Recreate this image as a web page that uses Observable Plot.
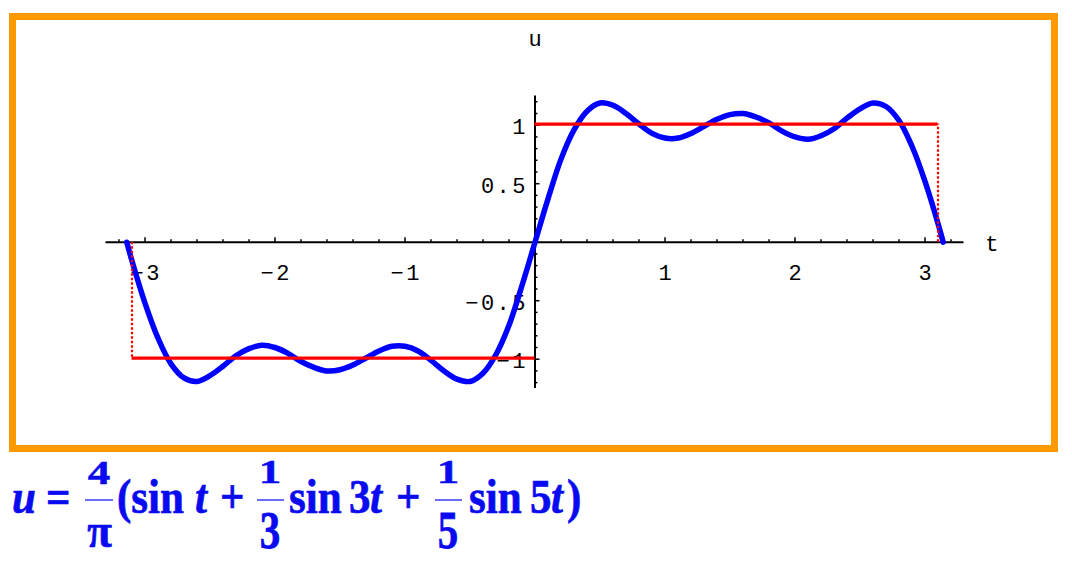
<!DOCTYPE html>
<html>
<head>
<meta charset="utf-8">
<script src="https://cdn.jsdelivr.net/npm/d3@7"></script>
<script src="https://cdn.jsdelivr.net/npm/@observablehq/plot@0.6"></script>
<style>
  body { margin: 0; background: white; }
  #wrap { position: relative; width: 1072px; height: 568px; overflow: hidden; background: white; }
  #chart { position: absolute; left: 0; top: 0; }
  #box { position: absolute; left: 9px; top: 13px; width: 1049px; height: 439px;
         border: 7.5px solid #FF9900; box-sizing: border-box; pointer-events: none; }
  #formula { position: absolute; left: 0; top: 452px; }
</style>
</head>
<body>
<div id="wrap">
  <div id="chart"></div>
  <div id="box"></div>
  <svg id="formula" width="1072" height="116"></svg>
</div>
<script>
// ---- data ----
const tValues = [
  -3.14, -3.1, -3.0, -2.9, -2.8, -2.7, -2.6, -2.5, -2.4, -2.3, -2.2, -2.1, -2.0,
  -1.9, -1.8, -1.7, -1.6, -1.5, -1.4, -1.3, -1.2, -1.1, -1.0, -0.9, -0.8, -0.7,
  -0.6, -0.5, -0.4, -0.3, -0.2, -0.1,
  0,
  0.1, 0.2, 0.3, 0.4, 0.5, 0.6, 0.7, 0.8, 0.9, 1.0, 1.1, 1.2, 1.3, 1.4, 1.5,
  1.6, 1.7, 1.8, 1.9, 2.0, 2.1, 2.2, 2.3, 2.4, 2.5, 2.6, 2.7, 2.8, 2.9, 3.0,
  3.1, 3.14
];
const uValues = [
  0, -0.16, -0.52, -0.82, -1.04, -1.16, -1.19, -1.14, -1.06, -0.97, -0.91, -0.88, -0.90,
  -0.95, -1.02, -1.07, -1.10, -1.09, -1.05, -0.99, -0.93, -0.89, -0.89, -0.93, -1.01, -1.10,
  -1.17, -1.19, -1.12, -0.96, -0.71, -0.37,
  0,
  0.37, 0.71, 0.96, 1.12, 1.19, 1.17, 1.10, 1.01, 0.93, 0.89, 0.89, 0.93, 0.99, 1.05, 1.09,
  1.10, 1.07, 1.02, 0.95, 0.90, 0.88, 0.91, 0.97, 1.06, 1.14, 1.19, 1.16, 1.04, 0.82, 0.52,
  0.16, 0
];
// square wave reference (red)
const levelStart = [-3.1, 0];
const levelEnd = [0, 3.1];
const levelValue = [-0.99, 1.01];
const jumpT = [-3.1, 3.1];
const jumpU = [-0.99, 1.01];
// tick labels
const xTickValues = [-3, -2, -1, 1, 2, 3];
const xTickLabels = ["\u22123", "\u22122", "\u22121", "1", "2", "3"];
const yTickValues = [1, 0.5, -0.5, -1];
const yTickLabels = ["1", "0.5", "\u22120.5", "\u22121"];
const xAxisTitle = "t";
const yAxisTitle = "u";

const curve = tValues.map((t, i) => ({t, u: uValues[i]}));
const levels = levelValue.map((u, i) => ({t1: levelStart[i], t2: levelEnd[i], u}));
const jumps = jumpT.map((t, i) => ({t, u: jumpU[i]}));
const xMinor = d3.range(-32, 33, 2).map(d => d / 10).filter(d => d !== 0 && !Number.isInteger(d));
const yMinor = d3.range(-12, 13, 1).map(d => d / 10).filter(d => d !== 0 && Math.abs(d) !== 0.5 && Math.abs(d) !== 1);
const xMajor = [-3, -2, -1, 1, 2, 3];
const yMajor = [-1, -0.5, 0.5, 1];

const PXX = 130, PXY = 117;
const mono = "Liberation Mono, DejaVu Sans Mono, monospace";

const plot = Plot.plot({
  width: 1072, height: 452,
  marginLeft: 105.5, marginRight: 108.5, marginTop: 95.45, marginBottom: 64.05,
  x: {domain: [-3.3, 3.3], axis: null},
  y: {domain: [-1.25, 1.25], axis: null},
  style: {background: "transparent", overflow: "visible", letterSpacing: "2.5px"},
  marks: [
    // axes
    Plot.ruleY([0], {x1: -3.3, x2: 3.3, stroke: "black", strokeWidth: 2}),
    Plot.ruleX([0], {y1: -1.25, y2: 1.25, stroke: "black", strokeWidth: 2}),
    Plot.ruleX(xMinor, {x: d => d, y1: 0, y2: 2.5 / PXY, stroke: "black", strokeWidth: 1.5}),
    Plot.ruleX(xMajor, {x: d => d, y1: -0.5 / PXY, y2: 4.5 / PXY, stroke: "black", strokeWidth: 1.5}),
    Plot.ruleY(yMinor, {y: d => d, x1: 0, x2: 3 / PXX, stroke: "black", strokeWidth: 1.5}),
    Plot.ruleY(yMajor, {y: d => d, x1: 0, x2: 5 / PXX, stroke: "black", strokeWidth: 1.5}),
    Plot.text(xTickValues, {x: d => d, y: 0, text: (d, i) => xTickLabels[i], dy: 31, dx: 1.25,
      fontFamily: mono, fontSize: 22, fill: "black", lineAnchor: "middle"}),
    Plot.text(yTickValues, {x: 0, y: d => d, text: (d, i) => yTickLabels[i], textAnchor: "end", dx: -7, dy: 2,
      fontFamily: mono, fontSize: 22, fill: "black", lineAnchor: "middle"}),
    Plot.text([yAxisTitle], {x: 0, y: 1.25, text: d => d, dy: -57, dx: 1.25,
      fontFamily: mono, fontSize: 22, fill: "black", lineAnchor: "middle"}),
    Plot.text([xAxisTitle], {x: 3.3, y: 0, text: d => d, dx: 29, dy: 2,
      fontFamily: mono, fontSize: 22, fill: "black", lineAnchor: "middle"}),
    // partial sum curve
    Plot.line(curve, {x: "t", y: "u", stroke: "#0000ff", strokeWidth: 5.5, curve: "catmull-rom"}),
    // square wave
    Plot.ruleX(jumps, {x: "t", y1: 0, y2: "u", stroke: "#ff0000", strokeWidth: 2.2, strokeDasharray: "2.5,2"}),
    Plot.ruleY(levels, {y: "u", x1: "t1", x2: "t2", stroke: "#ff0000", strokeWidth: 3.2})
  ]
});
document.getElementById("chart").appendChild(plot);

// ---- formula caption ----
const fsvg = d3.select("#formula");
const top0 = 452;
const serif = "Liberation Serif, Times New Roman, serif";
const blue = "#0a0af0";
const pieces = [
  {s: "u", x: 12, y: 513, f: 43, sy: 1.15, it: true},
  {s: "=", x: 46, y: 513, f: 43, sy: 1.15},
  {s: "4", x: 99, y: 484, f: 45, sy: 0.75, a: "middle"},
  {s: "\u03c0", x: 99.5, y: 547, f: 45, sy: 1.1, a: "middle"},
  {s: "(sin", x: 117, y: 513, f: 43, sy: 1.15},
  {s: "t", x: 195, y: 513, f: 43, sy: 1.15, it: true},
  {s: "+", x: 220, y: 513, f: 43, sy: 1.15},
  {s: "1", x: 270, y: 483, f: 45, sy: 0.75, a: "middle"},
  {s: "3", x: 270, y: 548, f: 41, sy: 1.27, a: "middle"},
  {s: "sin", x: 289, y: 513, f: 43, sy: 1.15},
  {s: "3", x: 349, y: 513, f: 43, sy: 1.15},
  {s: "t", x: 370, y: 513, f: 43, sy: 1.15, it: true},
  {s: "+", x: 396, y: 513, f: 43, sy: 1.15},
  {s: "1", x: 448, y: 483, f: 45, sy: 0.75, a: "middle"},
  {s: "5", x: 448, y: 548, f: 41, sy: 1.27, a: "middle"},
  {s: "sin", x: 469, y: 513, f: 43, sy: 1.15},
  {s: "5", x: 530, y: 513, f: 43, sy: 1.15},
  {s: "t", x: 551, y: 513, f: 43, sy: 1.15, it: true},
  {s: ")", x: 567, y: 513, f: 43, sy: 1.15}
];
for (const p of pieces) {
  fsvg.append("text")
    .attr("transform", `translate(${p.x},${p.y - top0}) scale(1,${p.sy})`)
    .attr("font-family", serif)
    .attr("font-weight", "bold")
    .attr("font-style", p.it ? "italic" : "normal")
    .attr("font-size", p.f)
    .attr("text-anchor", p.a || "start")
    .attr("fill", blue)
    .attr("stroke", blue)
    .attr("stroke-width", 0.6)
    .text(p.s);
}
const bars = [[85, 113], [257, 284], [435, 462]];
for (const [x1, x2] of bars) {
  fsvg.append("line").attr("x1", x1).attr("x2", x2)
    .attr("y1", 500 - top0).attr("y2", 500 - top0)
    .attr("stroke", blue).attr("stroke-width", 1.2);
}
</script>
</body>
</html>
